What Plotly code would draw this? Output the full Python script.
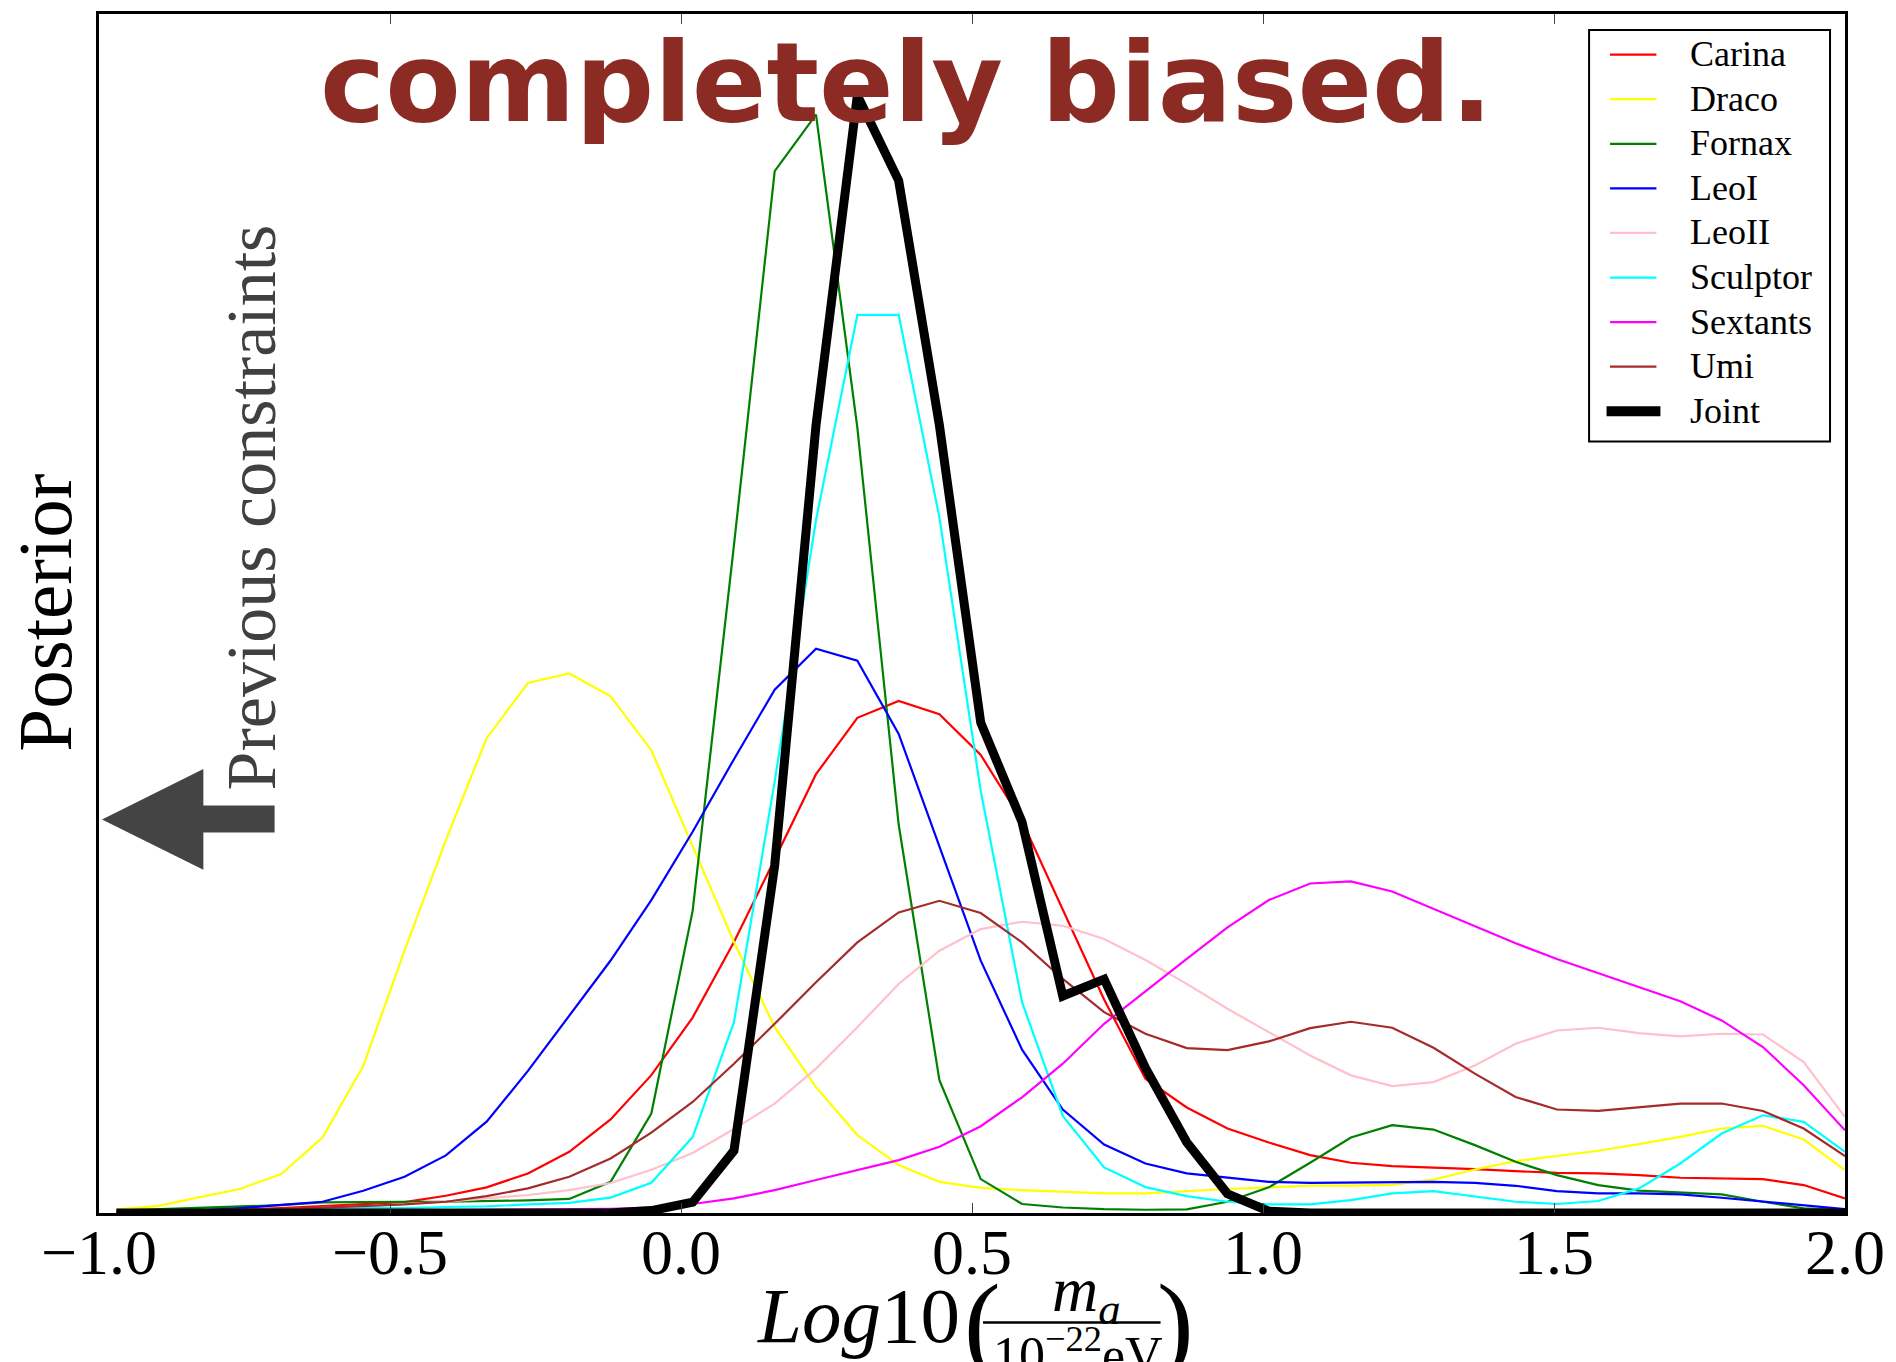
import plotly.graph_objects as go

# ---------------- data ----------------
x_vals = [-0.970, -0.899, -0.829, -0.758, -0.687, -0.616, -0.546, -0.475, -0.404,
          -0.334, -0.263, -0.192, -0.121, -0.051, 0.020, 0.091, 0.161, 0.232,
          0.303, 0.374, 0.444, 0.515, 0.586, 0.656, 0.727, 0.798, 0.869, 0.939,
          1.010, 1.081, 1.151, 1.222, 1.293, 1.364, 1.434, 1.505, 1.576, 1.646,
          1.717, 1.788, 1.859, 1.929, 2.000]

carina = [0.001, 0.0015, 0.002, 0.003, 0.004, 0.0055, 0.007, 0.009, 0.0144, 0.0214,
          0.033, 0.051, 0.078, 0.115, 0.163, 0.226, 0.295, 0.366, 0.413, 0.427,
          0.416, 0.382, 0.327, 0.253, 0.178, 0.112, 0.088, 0.0705, 0.0588, 0.0483,
          0.0419, 0.0391, 0.038, 0.0366, 0.0349, 0.0335, 0.033, 0.0316, 0.0294,
          0.0288, 0.0283, 0.0233, 0.0122]

draco = [0.003, 0.0058, 0.013, 0.020, 0.0324, 0.063, 0.1225, 0.219, 0.311, 0.396,
         0.442, 0.450, 0.431, 0.386, 0.306, 0.226, 0.155, 0.105, 0.065, 0.040,
         0.026, 0.021, 0.019, 0.0177, 0.0164, 0.0164, 0.0185, 0.0200, 0.0214, 0.0228,
         0.0229, 0.0235, 0.0278, 0.0363, 0.0433, 0.0474, 0.0519, 0.0574, 0.0635,
         0.0705, 0.0727, 0.0613, 0.0358]

fornax = [0.002, 0.003, 0.004, 0.005, 0.0066, 0.0089, 0.0094, 0.0094, 0.0094, 0.0098,
          0.0105, 0.0117, 0.026, 0.083, 0.252, 0.557, 0.869, 0.916, 0.655, 0.324,
          0.1107, 0.0283, 0.0075, 0.0046, 0.0032, 0.0027, 0.0031, 0.0094, 0.0214,
          0.0419, 0.063, 0.0732, 0.0696, 0.0566, 0.0427, 0.0316, 0.0233, 0.0186,
          0.0172, 0.0155, 0.0094, 0.0039, 0.0025]

leo1 = [0.001, 0.001, 0.002, 0.004, 0.0067, 0.0094, 0.0186, 0.0303, 0.048, 0.0762,
        0.1185, 0.1646, 0.2106, 0.261, 0.318, 0.3785, 0.4365, 0.4706, 0.4606, 0.3996,
        0.3048, 0.2105, 0.1362, 0.0863, 0.0571, 0.0413, 0.033, 0.0294, 0.026, 0.0252,
        0.0255, 0.026, 0.026, 0.0252, 0.0227, 0.0183, 0.0164, 0.0164, 0.0155, 0.0127,
        0.0094, 0.0067, 0.0033]

leo2 = [0.001, 0.0012, 0.0015, 0.002, 0.003, 0.004, 0.0055, 0.0075, 0.0094, 0.0122,
        0.015, 0.0191, 0.025, 0.036, 0.050, 0.070, 0.0912, 0.1204, 0.155, 0.191,
        0.2188, 0.2368, 0.2429, 0.2396, 0.2285, 0.211, 0.1911, 0.1703, 0.1508, 0.1314,
        0.1148, 0.1059, 0.1092, 0.1231, 0.1412, 0.1522, 0.1545, 0.150, 0.1473, 0.1495,
        0.1489, 0.1259, 0.0801]

sculptor = [0.001, 0.001, 0.002, 0.002, 0.003, 0.003, 0.004, 0.004, 0.005, 0.0055,
            0.0072, 0.0085, 0.0128, 0.0252, 0.0633, 0.1592, 0.360, 0.578, 0.749, 0.749,
            0.58, 0.352, 0.1758, 0.081, 0.038, 0.0216, 0.0141, 0.0094, 0.0072, 0.0072,
            0.0108, 0.0164, 0.0183, 0.0141, 0.0094, 0.0075, 0.010, 0.0205, 0.0413,
            0.0663, 0.0815, 0.076, 0.051]

sextants = [0.001, 0.001, 0.001, 0.001, 0.0012, 0.0015, 0.0018, 0.002, 0.0022, 0.0025,
            0.0028, 0.003, 0.0035, 0.0044, 0.0075, 0.0122, 0.0191, 0.0275, 0.0358,
            0.0441, 0.0552, 0.0724, 0.0965, 0.1245, 0.1578, 0.185, 0.2119, 0.2382,
            0.261, 0.2748, 0.2765, 0.2681, 0.2535, 0.2388, 0.2249, 0.2119, 0.200,
            0.1889, 0.1766, 0.1606, 0.1384, 0.1065, 0.069]

umi = [0.001, 0.0015, 0.002, 0.0025, 0.0035, 0.0045, 0.0058, 0.0072, 0.0094, 0.0141,
       0.0205, 0.0302, 0.0455, 0.067, 0.0926, 0.1245, 0.1578, 0.1924, 0.2257, 0.2507,
       0.2604, 0.2502, 0.2257, 0.1952, 0.1675, 0.1495, 0.1375, 0.1359, 0.1431, 0.1542,
       0.1595, 0.1545, 0.1378, 0.1162, 0.0968, 0.0863, 0.0851, 0.0884, 0.0913, 0.0913,
       0.0851, 0.0705, 0.0474]

joint = [0, 0, 0, 0, 0, 0, 0, 0, 0, 0, 0, 0, 0,
         0.002, 0.009, 0.052, 0.290, 0.657, 0.932, 0.861, 0.657, 0.409, 0.326, 0.181,
         0.195, 0.121, 0.059, 0.016, 0.0015,
         0, 0, 0, 0, 0, 0, 0, 0, 0, 0, 0, 0, 0, 0]

series_names = ["Carina", "Draco", "Fornax", "LeoI", "LeoII", "Sculptor", "Sextants", "Umi", "Joint"]
x_ticks = [-1.0, -0.5, 0.0, 0.5, 1.0, 1.5, 2.0]

# ---------------- styling ----------------
series_values = [carina, draco, fornax, leo1, leo2, sculptor, sextants, umi, joint]
series_colors = ["#FF0000", "#FFFF00", "#008000", "#0000FF", "#FFC0CB",
                 "#00FFFF", "#FF00FF", "#A52A2A", "#000000"]
series_widths = [2.2, 2.2, 2.2, 2.2, 2.2, 2.2, 2.2, 2.2, 9]

W, H = 1896, 1362
ML, MR, MT, MB = 99, 47, 11, 149
PW, PH = W - ML - MR, H - MT - MB


def px(xp):
    return (xp - ML) / PW


def py(yp):
    return (H - MB - yp) / PH


SERIF = "Liberation Serif"

fig = go.Figure()
for name, vals, col, lw in zip(series_names, series_values, series_colors, series_widths):
    fig.add_trace(go.Scatter(x=x_vals, y=vals, mode="lines", name=name,
                             line=dict(color=col, width=lw), showlegend=False))

annotations = [
    # handwritten-style overlay
    dict(text="completely biased.", x=px(908), y=py(80), xref="paper", yref="paper",
         xanchor="center", yanchor="middle", showarrow=False,
         font=dict(family="DejaVu Sans", size=110, color="#8C2B24", weight="bold")),
    # y label
    dict(text="Posterior", x=px(44), y=py(611), xref="paper", yref="paper",
         xanchor="center", yanchor="middle", showarrow=False, textangle=-90,
         font=dict(family=SERIF, size=77, color="black")),
    dict(text="Previous constraints", x=px(252), y=py(506), xref="paper", yref="paper",
         xanchor="center", yanchor="middle", showarrow=False, textangle=-90,
         font=dict(family=SERIF, size=70, color="#404040")),
    # x label pieces
    dict(text="<i>Log</i>10", x=px(860), y=py(1316), xref="paper", yref="paper",
         xanchor="center", yanchor="middle", showarrow=False,
         font=dict(family=SERIF, size=79, color="black")),
    dict(text="(", x=px(985), y=py(1323), xref="paper", yref="paper",
         xanchor="center", yanchor="middle", showarrow=False,
         font=dict(family=SERIF, size=110, color="black")),
    dict(text=")", x=px(1178), y=py(1323), xref="paper", yref="paper",
         xanchor="center", yanchor="middle", showarrow=False,
         font=dict(family=SERIF, size=110, color="black")),
    dict(text="<i>m<sub>a</sub></i>", x=px(1089), y=py(1294), xref="paper", yref="paper",
         xanchor="center", yanchor="middle", showarrow=False,
         font=dict(family=SERIF, size=64, color="black")),
    dict(text="10<sup>\u221222</sup>eV", x=px(1080), y=py(1352), xref="paper", yref="paper",
         xanchor="center", yanchor="middle", showarrow=False,
         font=dict(family=SERIF, size=52, color="black")),
]

arrow_pts = [(102, 818.5), (203.6, 768), (203.6, 804.5), (275, 804.5),
             (275, 831.5), (203.6, 831.5), (203.6, 869)]
arrow_path = "M " + " L ".join(f"{px(a):.5f},{py(b):.5f}" for a, b in arrow_pts) + " Z"

shapes = [
    dict(type="path", path=arrow_path, xref="paper", yref="paper",
         fillcolor="#444444", line=dict(width=0), layer="above"),
    dict(type="line", x0=px(985), x1=px(1163), y0=py(1322.7), y1=py(1322.7),
         xref="paper", yref="paper", line=dict(color="black", width=2.5)),
]

# ---------------- legend (drawn box, samples and labels) ----------------
LEG_X0, LEG_Y0, LEG_X1, LEG_Y1 = 1592.5, 27, 1834, 439.5
ROW0, ROW_STEP = 51.7, 44.7
shapes.append(dict(type="rect", x0=px(LEG_X0), x1=px(LEG_X1), y0=py(LEG_Y0), y1=py(LEG_Y1),
                   xref="paper", yref="paper", fillcolor="white",
                   line=dict(color="black", width=2), layer="above"))
for i, (name, col, lw) in enumerate(zip(series_names, series_colors, series_widths)):
    yr = ROW0 + ROW_STEP * i
    thick = lw > 5
    shapes.append(dict(type="line", x0=px(1610 if thick else 1613.5),
                       x1=px(1664 if thick else 1660), y0=py(yr), y1=py(yr),
                       xref="paper", yref="paper", layer="above",
                       line=dict(color=col, width=10 if thick else 2.2)))
    annotations.append(dict(text=name, x=px(1692), y=py(yr - 0.5), xref="paper", yref="paper",
                            xanchor="left", yanchor="middle", showarrow=False,
                            font=dict(family=SERIF, size=36, color="black")))

fig.update_layout(
    width=W, height=H,
    margin=dict(l=ML, r=MR, t=MT, b=MB, pad=0),
    paper_bgcolor="white", plot_bgcolor="white",
    font=dict(family=SERIF, color="black"),
    showlegend=False,
    xaxis=dict(range=[-1, 2], tickvals=x_ticks, tickformat=".1f",
               ticks="inside", ticklen=10, tickwidth=1.2, tickcolor="#444444",
               showline=True, linewidth=2.5, linecolor="black", mirror="ticks",
               showgrid=False, zeroline=False, ticklabelstandoff=-19,
               tickfont=dict(family=SERIF, size=64, color="black")),
    yaxis=dict(range=[0, 1], showticklabels=False, ticks="",
               showline=True, linewidth=2.5, linecolor="black", mirror=True,
               showgrid=False, zeroline=False),
    annotations=annotations,
    shapes=shapes,
)

fig.write_html("out.html")
